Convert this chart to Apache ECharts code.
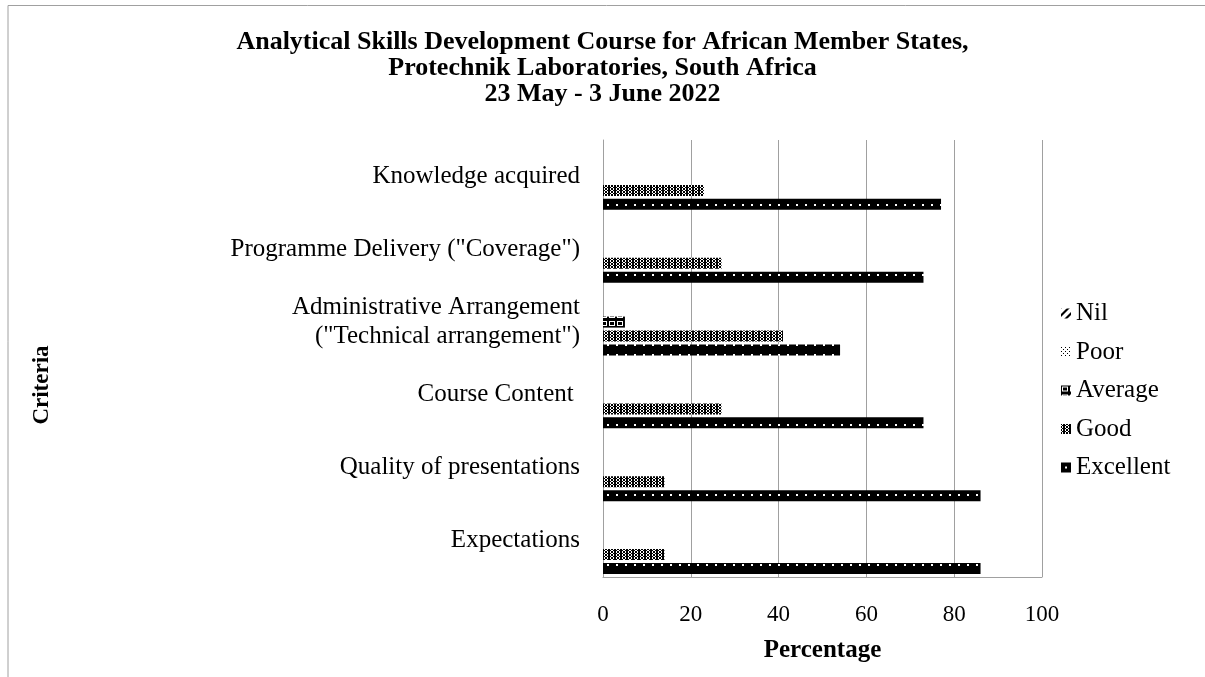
<!DOCTYPE html>
<html>
<head>
<meta charset="utf-8">
<script src="https://cdn.jsdelivr.net/npm/echarts@6/dist/echarts.min.js"></script>
<style>html,body{margin:0;padding:0;background:#fff}#c{width:1205px;height:677px}</style>
</head>
<body>
<div id="c"></div>
<script>
const categories = ['Expectations', 'Quality of presentations', 'Course Content ', 'Administrative Arrangement\n("Technical arrangement")', 'Programme Delivery ("Coverage")', 'Knowledge acquired'];
const excellent = [86, 86, 73, 54, 73, 77];
const good = [14, 14, 27, 41, 27, 23];
const average = [0, 0, 0, 5, 0, 0];
const poor = [0, 0, 0, 0, 0, 0];
const nil = [0, 0, 0, 0, 0, 0];
const legendOrder = ['Nil', 'Poor', 'Average', 'Good', 'Excellent'];
const xTicks = [0, 20, 40, 60, 80, 100];

function makePattern(rows) {
  const h = rows.length, w = rows[0].length;
  const cv = document.createElement('canvas');
  cv.width = w; cv.height = h;
  const ctx = cv.getContext('2d');
  ctx.fillStyle = '#fff'; ctx.fillRect(0, 0, w, h);
  ctx.fillStyle = '#000';
  for (let y = 0; y < h; y++) for (let x = 0; x < w; x++) if (rows[y][x] === 'X') ctx.fillRect(x, y, 1, 1);
  return { image: cv, repeat: 'repeat' };
}
const patExcellent = makePattern([
  'XXXXXXXXX',
  'XXXXXXXXX',
  'XXXXXXXXX',
  'XXXXXXXXX',
  'XXXX..XXX',
  'XXXX..XXX',
  'XXXXXXXXX',
  'XXXXXXXXX',
  'XXXXXXXXX',
  'XXXXXXXXX'
]);
const patGood = makePattern([
  'X.XX.X',
  '.XXXX.',
  'X.XX.X',
  'X.XX.X',
  '.XXXX.',
  'X.XX.X'
]);
const patAverage = makePattern([
  'XXXXXXXX',
  'X......X',
  'X.XXXX.X',
  'X.XXXX.X',
  'X.XXXX.X',
  'X......X',
  'XXXXXXXX',
  'XXXXXXXX'
]);
const patPoor = makePattern([
  'X...',
  '....',
  '..X.',
  '....'
]);
const patNil = makePattern([
  '.....XXX',
  '....XXX.',
  '...XXX..',
  '..XXX...',
  '.XXX....',
  'XXX.....',
  'XX.....X',
  'X.....XX'
]);

const font = 'Liberation Serif';
const chart = echarts.init(document.getElementById('c'), null, { renderer: 'canvas' });

function bar(name, data, color) {
  return {
    name: name, type: 'bar', data: data,
    barWidth: 11, barGap: '27%',
    itemStyle: { color: color },
    emphasis: { disabled: true },
    animation: false
  };
}

chart.setOption({
  animation: false,
  backgroundColor: '#fff',
  title: {
    text: 'Analytical Skills Development Course for African Member States,\nProtechnik Laboratories, South Africa\n23 May - 3 June 2022',
    left: 'center', top: 29, padding: 0,
    textStyle: { fontFamily: font, fontSize: 26, fontWeight: 'bold', color: '#000', lineHeight: 26 }
  },
  grid: { left: 603, right: 163, top: 140, bottom: 100, containLabel: false },
  legend: {
    orient: 'vertical', left: 1056, top: 296,
    data: legendOrder,
    itemWidth: 10, itemHeight: 10, itemGap: 13.5,
    icon: 'rect',
    textStyle: { fontFamily: font, fontSize: 25, color: '#000' }
  },
  xAxis: {
    type: 'value', min: 0, max: 100, interval: 20,
    name: 'Percentage', nameLocation: 'middle', nameGap: 61,
    nameTextStyle: { fontFamily: font, fontSize: 25, fontWeight: 'bold', color: '#000' },
    axisLine: { show: true, lineStyle: { color: '#a0a0a0', width: 1 } },
    axisTick: { show: false },
    axisLabel: { fontFamily: font, fontSize: 23, color: '#000', margin: 26,
      formatter: function (v) { return xTicks.indexOf(v) >= 0 ? String(v) : ''; } },
    splitLine: { show: true, lineStyle: { color: '#a0a0a0', width: 1 } }
  },
  yAxis: {
    type: 'category', data: categories,
    axisLine: { show: true, lineStyle: { color: '#a0a0a0', width: 1 } },
    axisTick: { show: false },
    axisLabel: { fontFamily: font, fontSize: 25, color: '#000', margin: 23, lineHeight: 29, align: 'right' }
  },
  series: [
    bar('Nil', nil, patNil),
    bar('Poor', poor, patPoor),
    bar('Average', average, patAverage),
    bar('Good', good, patGood),
    bar('Excellent', excellent, patExcellent)
  ],
  graphic: [
    { type: 'polyline', shape: { points: [[8, 677], [8, 5.5], [1205, 5.5]] }, style: { stroke: '#a0a0a0', lineWidth: 1, fill: null } },
    { type: 'text', x: 42, y: 385, rotation: Math.PI / 2,
      style: { text: 'Criteria', fontFamily: font, fontSize: 23, fontWeight: 'bold', fill: '#000', align: 'center', verticalAlign: 'middle' } }
  ]
});
</script>
</body>
</html>
